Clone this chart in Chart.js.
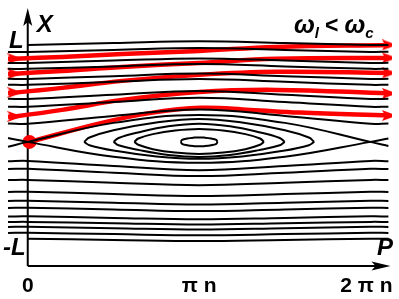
<!DOCTYPE html>
<html>
<head>
<meta charset="utf-8">
<script src="https://cdn.jsdelivr.net/npm/chart.js@4.4.1/dist/chart.umd.min.js"></script>
<style>
  html, body { margin: 0; padding: 0; background: #fff; }
  #wrap { width: 399px; height: 299px; }
</style>
</head>
<body>
<div id="wrap"><canvas id="phase"></canvas></div>
<script>
// P in units of pi*n (horizontal), X in units of L (vertical)
const pTicks = [0, 1, 2];
const pTickLabels = ['0', 'π n', '2 π n'];
const xTicks = [1, -1];
const xTickLabels = ['L', '-L'];

// open (running) orbits, sampled at these P values
const pOpen = [-0.115, 0, 0.5, 1, 1.5, 2, 2.104];
const openAbove = [
  [null, 1.0, 1.02, 1.038, 1.02, 1.0, 1.0],
  [0.928, 0.928, 0.948, 0.969, 0.948, 0.928, 0.929],
  [0.814, 0.814, 0.838, 0.861, 0.838, 0.814, 0.815],
  [0.753, 0.753, 0.778, 0.802, 0.778, 0.753, 0.754],
  [0.650, 0.649, 0.678, 0.706, 0.678, 0.649, 0.650],
  [0.589, 0.588, 0.620, 0.649, 0.620, 0.588, 0.589],
  [0.445, 0.443, 0.485, 0.524, 0.485, 0.443, 0.445],
  [0.363, 0.361, 0.410, 0.456, 0.410, 0.361, 0.363],
  [0.190, 0.186, 0.268, 0.334, 0.268, 0.186, 0.190]
];
const openBelow = [
  [-0.199, -0.196, -0.248, -0.292, -0.248, -0.196, -0.199],
  [-0.280, -0.278, -0.318, -0.353, -0.318, -0.278, -0.280],
  [-0.393, -0.392, -0.421, -0.447, -0.421, -0.392, -0.393],
  [-0.516, -0.515, -0.538, -0.559, -0.538, -0.515, -0.516],
  [-0.609, -0.608, -0.627, -0.645, -0.627, -0.608, -0.609],
  [-0.681, -0.680, -0.697, -0.714, -0.697, -0.680, -0.681],
  [-0.769, -0.768, -0.784, -0.798, -0.784, -0.768, -0.769],
  [-0.826, -0.825, -0.839, -0.853, -0.839, -0.825, -0.826],
  [-0.877, -0.876, -0.890, -0.903, -0.890, -0.876, -0.877],
  [-0.939, -0.938, -0.951, -0.963, -0.951, -0.938, -0.939],
  [null, -1.0, -1.011, -1.023, -1.011, -1.0, -1.0]
];
// separatrix, two branches crossing at P = 0 and P = 2
const sepUp = [-0.05, 0, 0.196, 0.278, 0.196, 0, -0.043];
const sepDown = [0.04, 0, -0.153, -0.216, -0.153, 0, 0.035];

// closed orbits round the centre (upper and lower halves)
const orbitP = [
  [0.329, 0.36, 0.5, 0.75, 1.0, 1.25, 1.5, 1.64, 1.671],
  [0.501, 0.53, 0.65, 0.82, 1.0, 1.18, 1.35, 1.47, 1.499],
  [0.622, 0.645, 0.73, 0.86, 1.0, 1.14, 1.27, 1.355, 1.378],
  [0.893, 0.9, 0.93, 0.97, 1.0, 1.03, 1.07, 1.1, 1.107]
];
const orbitTop = [
  [0, 0.045, 0.12, 0.2, 0.237, 0.2, 0.12, 0.045, 0],
  [0, 0.04, 0.1, 0.16, 0.186, 0.16, 0.1, 0.04, 0],
  [0, 0.035, 0.08, 0.118, 0.134, 0.118, 0.08, 0.035, 0],
  [0, 0.02, 0.035, 0.044, 0.046, 0.044, 0.035, 0.02, 0]
];
const orbitBottom = [
  [0, -0.035, -0.09, -0.15, -0.175, -0.15, -0.09, -0.035, 0],
  [0, -0.035, -0.085, -0.135, -0.155, -0.135, -0.085, -0.035, 0],
  [0, -0.03, -0.075, -0.11, -0.124, -0.11, -0.075, -0.03, 0],
  [0, -0.02, -0.035, -0.044, -0.046, -0.044, -0.035, -0.02, 0]
];

// red trajectory (omega_l < omega_c), one piece per period
const redP = [
  [0.01, 0.432, 0.72, 1.009, 1.297, 1.585, 2.11],
  [-0.115, -0.075, 0.2, 0.55, 1.0, 1.45, 2.11],
  [-0.115, -0.075, 0.2, 0.55, 1.0, 1.45, 2.11],
  [-0.115, -0.075, 0.2, 0.55, 1.0, 1.45, 2.11],
  [-0.115, -0.075, 0.2, 0.55, 1.0, 1.45, 2.11]
];
const redX = [
  [0.0, 0.196, 0.299, 0.351, 0.330, 0.302, 0.272],
  [0.258, 0.262, 0.330, 0.433, 0.515, 0.536, 0.500],
  [0.505, 0.508, 0.557, 0.629, 0.691, 0.722, 0.711],
  [0.701, 0.703, 0.732, 0.773, 0.814, 0.856, 0.866],
  [0.856, 0.858, 0.876, 0.907, 0.938, 0.979, 1.0]
];
// which points of each red piece carry an arrow head
const redArrows = [[6], [1, 6], [1, 6], [1, 6], [1, 6]];
const startPoint = { p: 0.01, x: 0.0 };

function pts(ps, xs) {
  return ps.map((p, i) => ({ x: p, y: xs[i] })).filter(d => d.y !== null);
}

// arrow head image used as point style
const head = document.createElement('canvas');
head.width = 15; head.height = 11;
(function () {
  const c = head.getContext('2d');
  c.fillStyle = '#ff0000';
  c.beginPath();
  c.moveTo(0, 0); c.lineTo(15, 5.5); c.lineTo(0, 11); c.lineTo(3, 5.5);
  c.closePath();
  c.fill();
})();

const blackLine = { borderColor: '#000', borderWidth: 2, pointRadius: 0, showLine: true, tension: 0.4, fill: false };
var datasets = [];
openAbove.concat(openBelow).forEach(xs => datasets.push(Object.assign({ data: pts(pOpen, xs) }, blackLine)));
datasets.push(Object.assign({ data: pts(pOpen, sepUp) }, blackLine));
datasets.push(Object.assign({ data: pts(pOpen, sepDown) }, blackLine));
orbitP.forEach((ps, i) => {
  datasets.push(Object.assign({ data: pts(ps, orbitTop[i]) }, blackLine));
  datasets.push(Object.assign({ data: pts(ps, orbitBottom[i]) }, blackLine));
});
redP.forEach((ps, i) => {
  datasets.push({
    data: pts(ps, redX[i]),
    showLine: true, tension: 0.4, fill: false,
    borderColor: '#ff0000', borderWidth: 4.5,
    pointStyle: ctx => redArrows[i].indexOf(ctx.dataIndex) >= 0 ? head : 'circle',
    pointRadius: ctx => redArrows[i].indexOf(ctx.dataIndex) >= 0 ? 6 : 0,
    pointBackgroundColor: '#ff0000', pointBorderWidth: 0
  });
});
datasets.push({
  data: [{ x: startPoint.p, y: startPoint.x }],
  pointRadius: 7, pointBackgroundColor: '#ff0000', pointBorderWidth: 0, showLine: false
});

const labelFont = 'italic bold 24px "Liberation Sans", Arial, sans-serif';

// axes with arrows and the text labels
const axesPlugin = {
  id: 'axes',
  beforeDatasetsDraw(chart) {
    const { ctx, scales: { x, y } } = chart;
    const x0 = x.getPixelForValue(0);
    const yb = y.bottom;
    ctx.save();
    ctx.strokeStyle = '#000';
    ctx.fillStyle = '#000';
    ctx.lineWidth = 2;
    ctx.beginPath();
    ctx.moveTo(x0, yb); ctx.lineTo(x0, y.top + 12);
    ctx.moveTo(x0, yb); ctx.lineTo(x.right - 12, yb);
    ctx.stroke();
    // y arrow
    ctx.beginPath();
    ctx.moveTo(x0, y.top - 2); ctx.lineTo(x0 + 4.5, y.top + 16); ctx.lineTo(x0, y.top + 12); ctx.lineTo(x0 - 4.5, y.top + 16);
    ctx.closePath(); ctx.fill();
    // x arrow
    const xr = x.right - 1.5;
    ctx.beginPath();
    ctx.moveTo(xr, yb); ctx.lineTo(xr - 19, yb - 4.5); ctx.lineTo(xr - 15, yb); ctx.lineTo(xr - 19, yb + 4.5);
    ctx.closePath(); ctx.fill();
    ctx.restore();
  },
  afterDatasetsDraw(chart) {
    const { ctx, scales: { x, y } } = chart;
    const x0 = x.getPixelForValue(0);
    ctx.save();
    ctx.fillStyle = '#000';
    ctx.textBaseline = 'alphabetic';
    ctx.font = labelFont;
    ctx.textAlign = 'left';
    ctx.fillText('X', x0 + 9, y.top + 22);
    ctx.textAlign = 'right';
    ctx.fillText(xTickLabels[0], x0 - 4, y.getPixelForValue(xTicks[0]) + 3);
    ctx.fillText(xTickLabels[1], x0 - 2, y.getPixelForValue(xTicks[1]) + 16);
    ctx.fillText('P', x.right + 1, y.bottom - 11);
    ctx.font = 'bold 21px "Liberation Sans", Arial, sans-serif';
    ctx.textAlign = 'center';
    ctx.fillText(pTickLabels[0], x.getPixelForValue(pTicks[0]), y.bottom + 26);
    ctx.fillText(pTickLabels[1], x.getPixelForValue(pTicks[1]), y.bottom + 26);
    ctx.textAlign = 'right';
    ctx.fillText(pTickLabels[2], x.right + 0.5, y.bottom + 26);
    // omega_l < omega_c
    const base = y.top + 23;
    let cx = 294;
    ctx.textAlign = 'left';
    ctx.font = 'italic bold 25px "Liberation Sans", Arial, sans-serif';
    ctx.fillText('ω', cx, base); cx += ctx.measureText('ω').width;
    ctx.font = 'italic bold 15px "Liberation Sans", Arial, sans-serif';
    ctx.fillText('l', cx, base + 5); cx += ctx.measureText('l').width + 6;
    ctx.font = 'bold 23px "Liberation Sans", Arial, sans-serif';
    ctx.fillText('<', cx, base); cx += ctx.measureText('<').width + 6;
    ctx.font = 'italic bold 25px "Liberation Sans", Arial, sans-serif';
    ctx.fillText('ω', cx, base); cx += ctx.measureText('ω').width;
    ctx.font = 'italic bold 15px "Liberation Sans", Arial, sans-serif';
    ctx.fillText('c', cx, base + 5);
    ctx.restore();
  }
};

new Chart(document.getElementById('phase'), {
  type: 'scatter',
  data: { datasets: datasets },
  options: {
    responsive: true,
    maintainAspectRatio: false,
    animation: false,
    events: [],
    layout: { padding: { left: 4, right: 5, top: 10, bottom: 33 } },
    scales: {
      x: { type: 'linear', min: -0.121, max: 2.125, display: false },
      y: { type: 'linear', min: -1.28, max: 1.36, display: false }
    },
    plugins: { legend: { display: false }, tooltip: { enabled: false } }
  },
  plugins: [axesPlugin]
});
</script>
</body>
</html>
